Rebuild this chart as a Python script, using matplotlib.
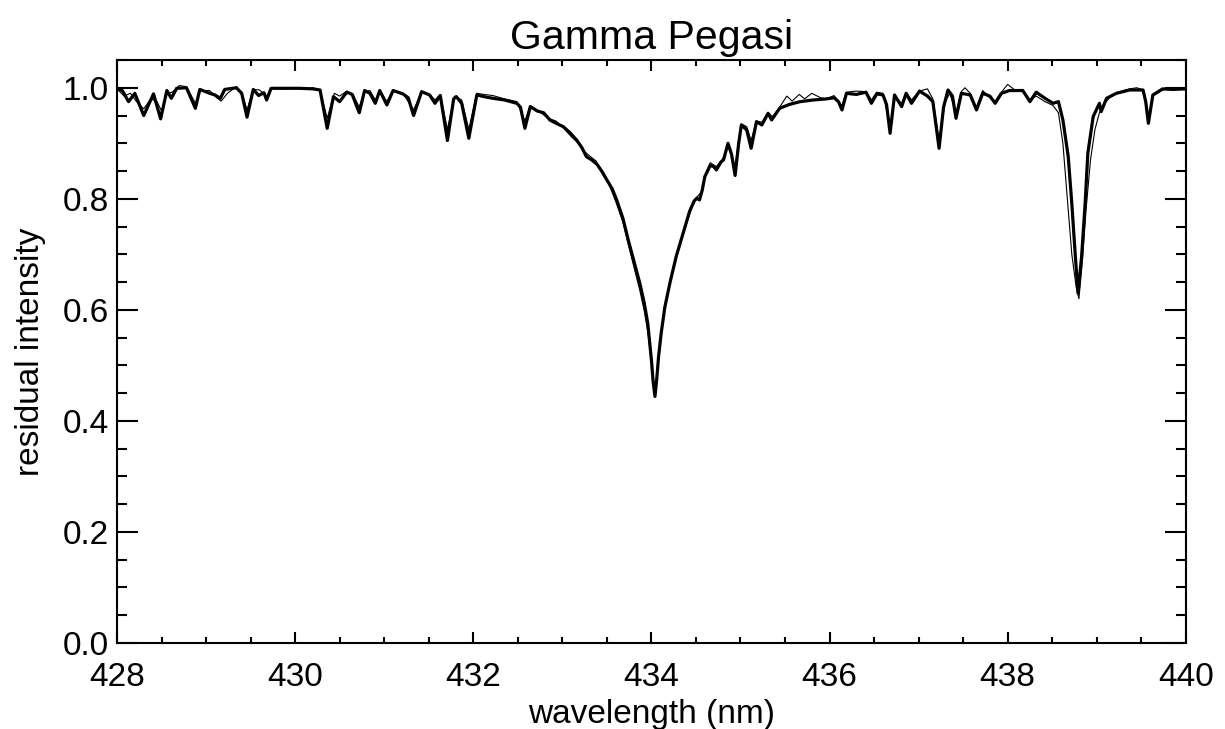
import matplotlib
matplotlib.use("Agg")
import matplotlib.pyplot as plt
from matplotlib.ticker import MultipleLocator

plt.rcParams['font.family'] = ['Liberation Sans', 'DejaVu Sans']

# observed spectrum (thick line)
wl_obs = [428.00, 428.06, 428.13, 428.20, 428.30, 428.37, 428.41, 428.49, 428.56, 428.61,
          428.67, 428.78, 428.88, 428.93, 429.04, 429.10, 429.16, 429.21, 429.34, 429.40,
          429.46, 429.53, 429.59, 429.65, 429.68, 429.73, 429.90, 430.05, 430.20, 430.28,
          430.36, 430.43, 430.50, 430.58, 430.64, 430.72, 430.78, 430.84, 430.90, 430.95,
          431.03, 431.10, 431.21, 431.27, 431.33, 431.42, 431.51, 431.57, 431.63, 431.71,
          431.78, 431.81, 431.87, 431.95, 432.04, 432.12, 432.22, 432.35, 432.49, 432.53,
          432.58, 432.64, 432.72, 432.79, 432.86, 432.93, 433.01, 433.08, 433.16, 433.22,
          433.27, 433.33, 433.39, 433.45, 433.50, 433.56, 433.61, 433.68, 433.74, 433.80,
          433.87, 433.92, 433.96, 434.00, 434.02, 434.04, 434.06, 434.08, 434.11, 434.15,
          434.21, 434.28, 434.35, 434.43, 434.48, 434.51, 434.54, 434.57, 434.60, 434.66,
          434.70, 434.73, 434.78, 434.81, 434.86, 434.90, 434.94, 434.98, 435.01, 435.07,
          435.12, 435.18, 435.24, 435.31, 435.35, 435.44, 435.55, 435.67, 435.82, 435.97,
          436.05, 436.10, 436.14, 436.19, 436.30, 436.41, 436.47, 436.53, 436.60, 436.64,
          436.68, 436.73, 436.81, 436.86, 436.92, 437.01, 437.10, 437.16, 437.23, 437.28,
          437.33, 437.38, 437.42, 437.48, 437.58, 437.65, 437.72, 437.80, 437.86, 437.93,
          438.02, 438.17, 438.25, 438.32, 438.42, 438.51, 438.57, 438.62, 438.68, 438.72,
          438.76, 438.79, 438.83, 438.87, 438.90, 438.96, 439.03, 439.05, 439.11, 439.22,
          439.37, 439.52, 439.55, 439.58, 439.63, 439.74, 439.85, 440.00]
flux_obs = [0.998, 0.995, 0.975, 0.990, 0.950, 0.975, 0.989, 0.944, 0.995, 0.981,
            0.999, 1.000, 0.963, 0.997, 0.990, 0.987, 0.981, 0.997, 1.000, 0.990,
            0.947, 0.997, 0.986, 0.991, 0.978, 0.999, 0.999, 0.999, 0.998, 0.996,
            0.927, 0.984, 0.975, 0.992, 0.988, 0.955, 0.995, 0.990, 0.972, 0.995,
            0.969, 0.995, 0.989, 0.982, 0.950, 0.993, 0.987, 0.972, 0.986, 0.905,
            0.980, 0.984, 0.972, 0.909, 0.987, 0.984, 0.981, 0.978, 0.972, 0.965,
            0.927, 0.966, 0.958, 0.955, 0.942, 0.936, 0.930, 0.920, 0.906, 0.892,
            0.876, 0.870, 0.862, 0.848, 0.834, 0.818, 0.798, 0.765, 0.726, 0.690,
            0.648, 0.612, 0.575, 0.510, 0.470, 0.444, 0.475, 0.515, 0.558, 0.604,
            0.650, 0.697, 0.735, 0.778, 0.796, 0.801, 0.798, 0.815, 0.840, 0.860,
            0.858, 0.852, 0.866, 0.870, 0.900, 0.880, 0.842, 0.900, 0.933, 0.924,
            0.891, 0.939, 0.933, 0.954, 0.942, 0.963, 0.970, 0.975, 0.978, 0.980,
            0.982, 0.975, 0.960, 0.990, 0.988, 0.992, 0.972, 0.989, 0.987, 0.970,
            0.918, 0.987, 0.966, 0.990, 0.972, 0.994, 0.985, 0.975, 0.891, 0.965,
            0.996, 0.985, 0.945, 0.990, 0.987, 0.960, 0.990, 0.985, 0.972, 0.990,
            0.995, 0.995, 0.975, 0.992, 0.981, 0.972, 0.975, 0.942, 0.876, 0.792,
            0.696, 0.630, 0.696, 0.792, 0.882, 0.948, 0.972, 0.957, 0.981, 0.990,
            0.996, 0.996, 0.975, 0.936, 0.987, 0.998, 0.997, 0.998]

# synthetic spectrum (thin line)
wl_mod = [428.00, 428.08, 428.15, 428.22, 428.30, 428.38, 428.45, 428.50, 428.56, 428.62,
          428.70, 428.78, 428.88, 428.94, 429.04, 429.12, 429.17, 429.24, 429.34, 429.40,
          429.46, 429.53, 429.60, 429.68, 429.75, 429.90, 430.00, 430.10, 430.20, 430.28,
          430.36, 430.44, 430.50, 430.58, 430.65, 430.72, 430.78, 430.84, 430.90, 430.96,
          431.03, 431.10, 431.21, 431.33, 431.42, 431.51, 431.57, 431.63, 431.71, 431.79,
          431.87, 431.95, 432.04, 432.12, 432.22, 432.35, 432.49, 432.58, 432.64, 432.72,
          432.80, 432.86, 432.93, 433.01, 433.10, 433.18, 433.25, 433.30, 433.38, 433.45,
          433.52, 433.60, 433.68, 433.74, 433.80, 433.87, 433.92, 433.96, 434.00, 434.03,
          434.05, 434.08, 434.12, 434.17, 434.23, 434.30, 434.38, 434.45, 434.51, 434.56,
          434.61, 434.66, 434.73, 434.81, 434.86, 434.94, 435.01, 435.07, 435.12, 435.18,
          435.24, 435.31, 435.36, 435.44, 435.52, 435.58, 435.66, 435.72, 435.80, 435.90,
          435.97, 436.05, 436.14, 436.19, 436.30, 436.41, 436.47, 436.53, 436.60, 436.68,
          436.73, 436.81, 436.86, 436.92, 437.01, 437.10, 437.16, 437.23, 437.30, 437.35,
          437.42, 437.48, 437.52, 437.58, 437.65, 437.72, 437.80, 437.86, 437.93, 438.00,
          438.08, 438.17, 438.25, 438.32, 438.42, 438.51, 438.57, 438.62, 438.67, 438.72,
          438.77, 438.80, 438.84, 438.88, 438.93, 438.98, 439.03, 439.08, 439.15, 439.22,
          439.30, 439.37, 439.45, 439.52, 439.58, 439.63, 439.74, 439.85, 440.00]
flux_mod = [0.998, 0.985, 0.990, 0.975, 0.962, 0.980, 0.975, 0.958, 0.990, 0.992,
            1.004, 1.002, 0.972, 0.995, 0.995, 0.982, 0.976, 0.990, 1.002, 0.992,
            0.960, 0.997, 0.996, 0.985, 1.000, 0.998, 1.000, 0.998, 1.000, 0.996,
            0.945, 0.990, 0.985, 0.994, 0.988, 0.965, 0.993, 0.995, 0.978, 0.993,
            0.975, 0.996, 0.990, 0.960, 0.992, 0.988, 0.978, 0.988, 0.925, 0.985,
            0.978, 0.925, 0.990, 0.988, 0.986, 0.980, 0.975, 0.940, 0.968, 0.960,
            0.950, 0.944, 0.940, 0.928, 0.912, 0.900, 0.885, 0.878, 0.868, 0.845,
            0.828, 0.795, 0.758, 0.718, 0.680, 0.635, 0.598, 0.560, 0.505, 0.455,
            0.462, 0.520, 0.575, 0.620, 0.662, 0.705, 0.748, 0.782, 0.803, 0.812,
            0.845, 0.865, 0.858, 0.874, 0.895, 0.860, 0.935, 0.930, 0.905, 0.940,
            0.938, 0.955, 0.948, 0.965, 0.985, 0.976, 0.988, 0.980, 0.990, 0.982,
            0.980, 0.986, 0.968, 0.992, 0.994, 0.993, 0.978, 0.992, 0.990, 0.930,
            0.985, 0.972, 0.992, 0.978, 0.994, 0.998, 0.980, 0.905, 0.975, 0.990,
            0.955, 0.993, 1.000, 0.990, 0.965, 0.995, 0.982, 0.976, 0.992, 1.006,
            0.996, 0.996, 0.978, 0.985, 0.975, 0.968, 0.955, 0.900, 0.800, 0.700,
            0.640, 0.620, 0.690, 0.780, 0.870, 0.925, 0.955, 0.970, 0.983, 0.990,
            0.995, 0.998, 1.000, 0.996, 0.945, 0.985, 0.996, 0.999, 0.997]

fig = plt.figure(figsize=(12.25, 7.29), dpi=100)
ax = fig.add_axes([0.0955, 0.118, 0.8725, 0.7997])

ax.plot(wl_mod, flux_mod, color='black', lw=0.8, solid_joinstyle='round')
ax.plot(wl_obs, flux_obs, color='black', lw=2.3, solid_joinstyle='round')

ax.set_xlim(428, 440)
ax.set_ylim(0, 1.05)
ax.xaxis.set_major_locator(MultipleLocator(2))
ax.xaxis.set_minor_locator(MultipleLocator(0.5))
ax.yaxis.set_major_locator(MultipleLocator(0.2))
ax.yaxis.set_minor_locator(MultipleLocator(0.05))
ax.yaxis.set_major_formatter(plt.FormatStrFormatter('%.1f'))

for s in ax.spines.values():
    s.set_linewidth(1.5)
ax.tick_params(which='both', direction='in', top=True, right=True,
               labelsize=24, width=1.5)
ax.tick_params(axis='x', which='major', length=8, pad=14)
ax.tick_params(axis='x', which='minor', length=4)
ax.tick_params(axis='y', which='major', length=15, pad=6)
ax.tick_params(axis='y', which='minor', length=7.5)

ax.set_title("Gamma Pegasi", fontsize=29.5, pad=8)
ax.set_xlabel("wavelength (nm)", fontsize=24, labelpad=4)
ax.set_ylabel("residual intensity", fontsize=24, labelpad=12)

plt.savefig("out.png", dpi=100)
